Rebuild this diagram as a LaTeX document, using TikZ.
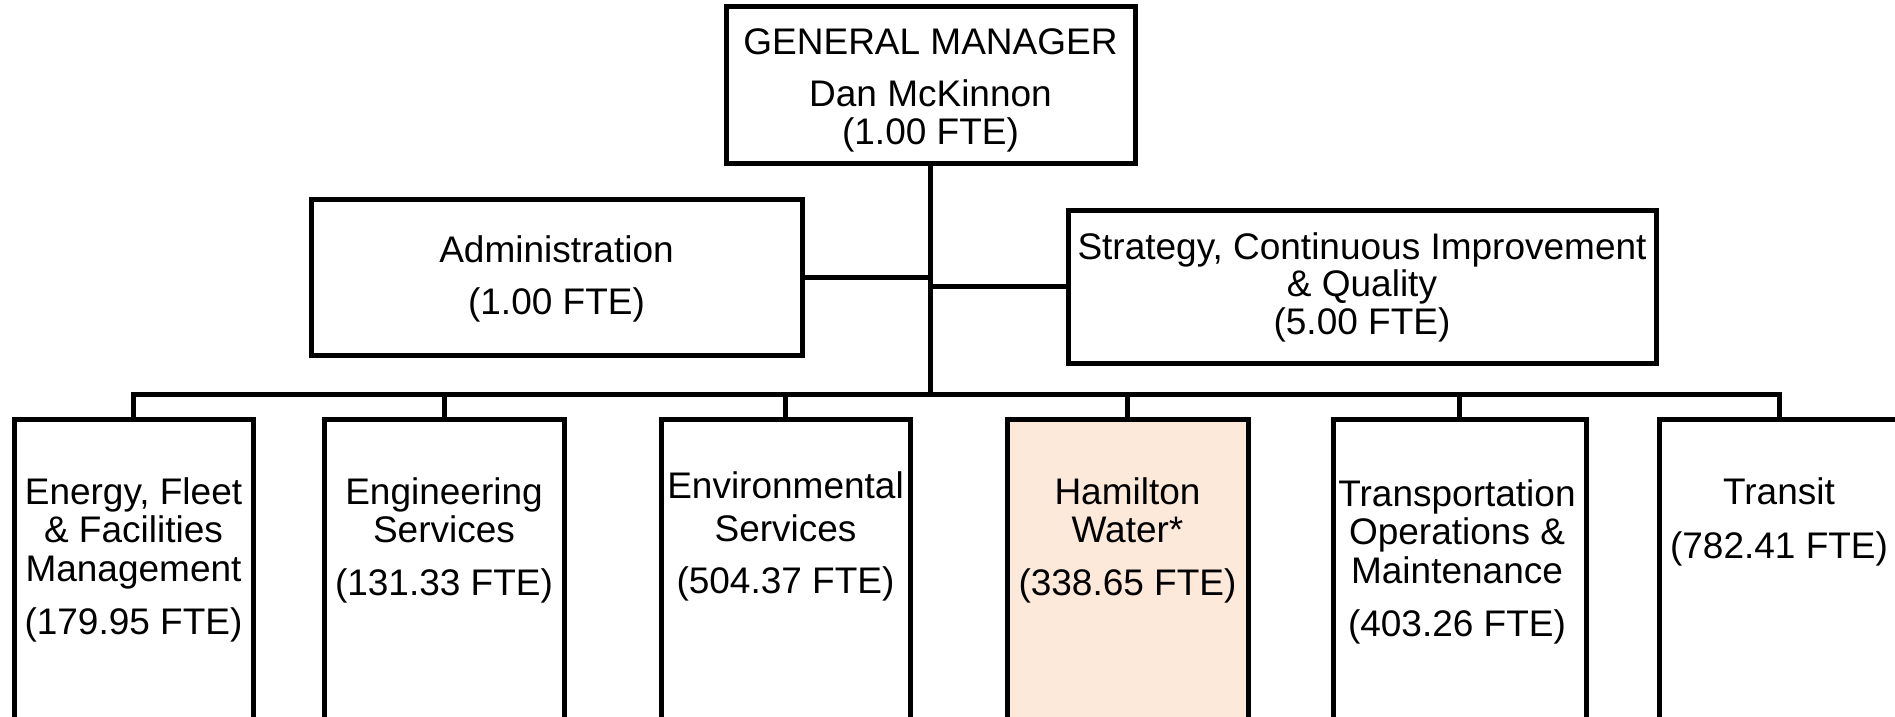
\documentclass[tikz,border=0pt]{standalone}
\usepackage{fontspec}
\setmainfont{Liberation Sans}
\definecolor{peach}{RGB}{253,233,217}
\begin{document}
\begin{tikzpicture}[x=0.5pt,y=-0.5pt,
  box/.style={draw=black,line width=2.5pt,inner sep=0pt,fill=white},
  txt/.style={anchor=north,align=center,inner sep=0pt,
    font=\fontsize{18.5pt}{19.25pt}\selectfont},
  conn/.style={line width=2.5pt}]
\useasboundingbox (0,0) rectangle (1895,717);
\clip (0,0) rectangle (1895,717);
% boxes
\node[box,minimum width=204.5pt,minimum height=78pt] (gm) at (930.5,85) {};
\node[box,minimum width=245.5pt,minimum height=78pt] (adm) at (556.5,277) {};
\node[box,minimum width=294pt,minimum height=76.5pt] (str) at (1362,286.5) {};
\node[box,minimum width=119.5pt,minimum height=170.5pt] (b1) at (133.5,589.5) {};
\node[box,minimum width=120pt,minimum height=170.5pt] (b2) at (444,589.5) {};
\node[box,minimum width=124.5pt,minimum height=170.5pt] (b3) at (785.5,589.5) {};
\node[box,minimum width=120.5pt,minimum height=170.5pt,fill=peach] (b4) at (1127.5,589.5) {};
\node[box,minimum width=126.5pt,minimum height=170.5pt] (b5) at (1459.5,589.5) {};
\node[box,minimum width=120pt,minimum height=170.5pt] (b6) at (1779,589.5) {};
% texts
\node[txt] (tgm) at (930.5,28) {GENERAL MANAGER\\[6.75pt]Dan McKinnon\\(1.00 FTE)};
\node[txt] (tadm) at (556.5,235) {Administration\\[6.75pt](1.00 FTE)};
\node[txt] (tstr) at (1362,232) {Strategy, Continuous Improvement\\[-0.5pt]\& Quality\\[-0.5pt](5.00 FTE)};
\node[txt] (tb1) at (133.5,477) {Energy, Fleet\\\& Facilities\\Management\\[7.25pt](179.95 FTE)};
\node[txt] (tb2) at (444,477) {Engineering\\Services\\[7.25pt](131.33 FTE)};
\node[txt] (tb3) at (785.5,471) {Environmental\\[2.25pt]Services\\[6.75pt](504.37 FTE)};
\node[txt] (tb4) at (1127.5,477) {Hamilton\\Water*\\[7.25pt](338.65 FTE)};
\node[txt] (tb5) at (1457,479) {Transportation\\Operations \&\\Maintenance\\[7.25pt](403.26 FTE)};
\node[txt] (tb6) at (1779,477) {Transit\\[7.75pt](782.41 FTE)};
% connectors
\coordinate (busL) at (133.5,394);
\coordinate (busR) at (1779,394);
\draw[conn,line cap=rect] (busL) -- (busR);
\draw[conn] (gm.south) -- (gm.south |- busL);
\draw[conn] (adm.east) -- (adm.east -| gm.south);
\draw[conn] (str.west) -- (str.west -| gm.south);
\foreach \b in {b1,b2,b3,b4,b5,b6}{
  \draw[conn] (\b.north) -- (\b.north |- busL);
}
\end{tikzpicture}
\end{document}
